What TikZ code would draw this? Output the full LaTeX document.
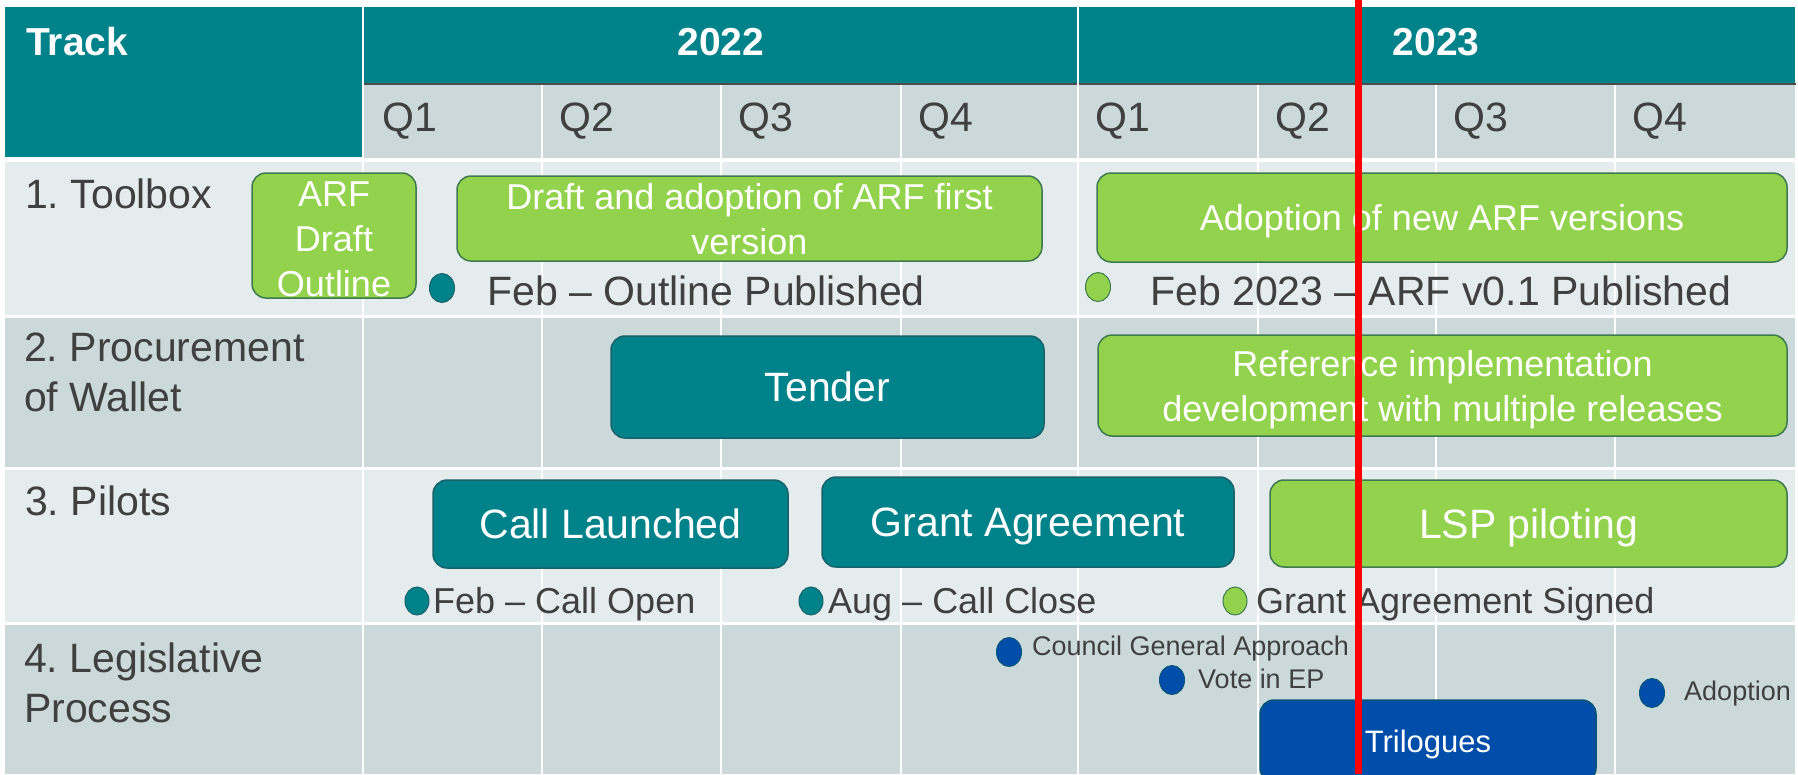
\documentclass[tikz,border=0pt]{standalone}
\usepackage{fontspec}
\setmainfont{Liberation Sans}
\usetikzlibrary{shapes.geometric}
\definecolor{ecteal}{RGB}{0,130,138}
\definecolor{ectealline}{RGB}{25,98,104}
\definecolor{ecgreen}{RGB}{146,210,76}
\definecolor{ecgreenline}{RGB}{62,122,78}
\definecolor{ecblue}{RGB}{0,78,170}
\definecolor{ecblueline}{RGB}{10,85,115}
\definecolor{rowlight}{RGB}{229,236,237}
\definecolor{rowdark}{RGB}{203,217,218}
\definecolor{txtgray}{RGB}{64,64,64}
\frenchspacing

\begin{document}
\begin{tikzpicture}[x=1pt,y=-1pt,
  bar/.style={rounded corners=14pt, draw, line width=1.5pt, text=white, align=center, inner sep=0pt},
  greenbar/.style={bar, fill=ecgreen, draw=ecgreenline},
  tealbar/.style={bar, fill=ecteal, draw=ectealline},
  bluebar/.style={bar, fill=ecblue, draw=ecblueline},
  oneline/.style={text height=#1, text depth=0pt},
  dot/.style={ellipse, minimum width=25pt, minimum height=29pt, inner sep=0pt, line width=1pt},
  big/.style={font=\fontsize{41}{50}\selectfont},
  mid/.style={font=\fontsize{36}{45}\selectfont},
  small/.style={font=\fontsize{27}{32}\selectfont},
  lbl/.style={text=txtgray, inner sep=0pt},
  head/.style={text=white, inner sep=0pt, font=\bfseries\fontsize{39}{46}\selectfont}]
\useasboundingbox (0,0) rectangle (1798,774);
\clip (0,0) rectangle (1798,774);
\fill[white] (0,0) rectangle (1798,774);
% header
\fill[ecteal] (5,7) rectangle (362,157);
\fill[ecteal] (364,7) rectangle (1795,83);
\fill[rowdark] (364,85) rectangle (1795,158);
\draw[line width=2.5pt, black!70] (362,84) -- (1796,84);
\node[head, anchor=base west] (track) at (26,55) {Track};
\node[head, anchor=base] (y2022) at (721,55) {2022};
\node[head, anchor=base] (y2023) at (1436,55) {2023};
% rows
\fill[rowlight] (5,162) rectangle (1795,315);
\fill[rowdark] (5,318) rectangle (1795,467);
\fill[rowlight] (5,470) rectangle (1795,622);
\fill[rowdark] (5,625) rectangle (1795,774);
\draw[white, line width=2.5pt] (363,0) -- (363,774);
\draw[white, line width=2.5pt] (1078,0) -- (1078,774);
\foreach \x in {542,721,901,1258,1436,1615}
  \draw[white, line width=2pt] (\x,85) -- (\x,774);
\foreach \x/\q [count=\i] in {365/1,542/2,721/3,901/4,1078/1,1258/2,1436/3,1615/4}
  \node[big, lbl, anchor=base west] (q\i) at (\x+17,131) {Q\q};
% track names
\node[big, lbl, anchor=base west] (toolbox) at (25,208) {1. Toolbox};
\node[big, lbl, anchor=north west, align=left] (procure) at (24,333) {2. Procurement\\of Wallet};
\node[big, lbl, anchor=base west] (pilots) at (25,515) {3. Pilots};
\node[big, lbl, anchor=north west, align=left] (legis) at (24,643) {4. Legislative\\Process};
% 1. toolbox
\node[greenbar, mid, text height=122pt, minimum width=164, minimum height=125] (arf) at (334,235.5) {ARF\\Draft\\Outline};
\node[greenbar, mid, text depth=0pt, minimum width=585, minimum height=85] (draft) at (749.5,218.5) {Draft and adoption of ARF first\\version};
\node[greenbar, mid, oneline=26pt, minimum width=690, minimum height=89] (adopt) at (1442,217.5) {Adoption of new ARF versions};
\node[dot, fill=ecteal, draw=ectealline] (outdot) at (442,288) {};
\node[big, lbl, anchor=base west] (outpub) at (487,305) {Feb -- Outline Published};
\node[dot, fill=ecgreen, draw=ecgreenline] (arfdot) at (1098,287) {};
\node[big, lbl, anchor=base west] (arfpub) at (1150,305) {Feb 2023 -- ARF v0.1 Published};
% 2. procurement
\node[tealbar, big, oneline=29.5pt, minimum width=433, minimum height=102] (tender) at (827.5,387) {Tender};
\node[greenbar, mid, text depth=0pt, minimum width=689, minimum height=101] (refimpl) at (1442.5,385.5) {Reference implementation\\development with multiple releases};
% 3. pilots
\node[tealbar, big, oneline=29.5pt, minimum width=355, minimum height=88] (call) at (610.5,524) {Call Launched};
\node[tealbar, big, oneline=29.5pt, minimum width=412, minimum height=90] (grant) at (1028,522) {Grant Agreement};
\node[greenbar, big, oneline=29.5pt, minimum width=517, minimum height=87] (lsp) at (1528.5,523.5) {LSP piloting};
\node[dot, minimum width=24, minimum height=28, fill=ecteal, draw=ectealline] (opendot) at (417,601) {};
\node[mid, lbl, anchor=base west] (open) at (433,613) {Feb -- Call Open};
\node[dot, minimum width=24, minimum height=28, fill=ecteal, draw=ectealline] (closedot) at (811,601) {};
\node[mid, lbl, anchor=base west] (close) at (828,613) {Aug -- Call Close};
\node[dot, minimum width=24, minimum height=28, fill=ecgreen, draw=ecgreenline] (signdot) at (1235,601) {};
\node[mid, lbl, anchor=base west] (sign) at (1256,613) {Grant Agreement Signed};
% 4. legislative
\node[dot, fill=ecblue, draw=ecblueline] (coudot) at (1009,652) {};
\node[small, lbl, anchor=base west] (council) at (1032,655) {Council General Approach};
\node[dot, fill=ecblue, draw=ecblueline] (votedot) at (1172,680) {};
\node[small, lbl, anchor=base west] (vote) at (1198,688) {Vote in EP};
\node[dot, fill=ecblue, draw=ecblueline] (adopdot) at (1652,693) {};
\node[small, lbl, anchor=base west] (adoption) at (1684,700) {Adoption};
\node[bluebar, font=\fontsize{31}{36}\selectfont, oneline=22pt, minimum width=336, minimum height=82] (trilog) at (1428,741) {Trilogues};
% today
\draw[red, line width=7pt] (1358.5,0) -- (1358.5,774);
\end{tikzpicture}
\end{document}
